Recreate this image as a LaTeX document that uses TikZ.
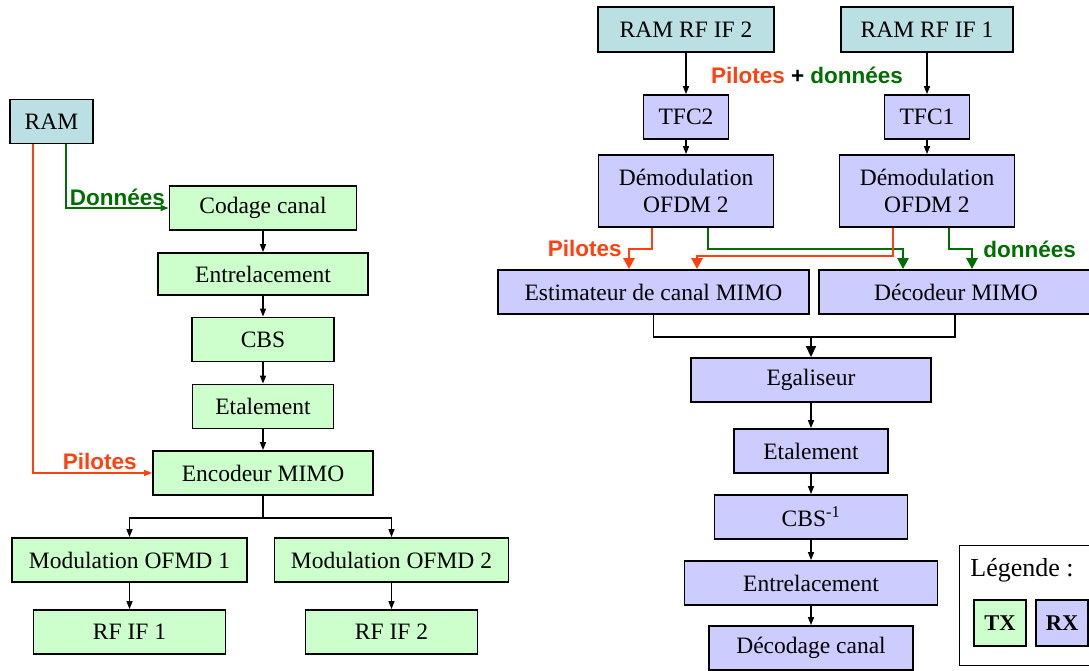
\documentclass[tikz,border=0pt]{standalone}
\usepackage{fontspec}
\setmainfont{Liberation Serif}
\newfontfamily\mmsans{Liberation Sans}
\usetikzlibrary{arrows.meta,calc}
\definecolor{mmtx}{HTML}{CCFFCC}
\definecolor{mmrx}{HTML}{CCCCFF}
\definecolor{mmram}{HTML}{BBE0E3}
\definecolor{mmred}{HTML}{FF4010}
\definecolor{mmgreen}{HTML}{006E00}
\tikzset{
  mm box/.style={draw=black, line width=1.8pt, inner sep=0pt, align=center,
    minimum height=44pt, font=\fontsize{23.5}{27}\selectfont},
  mm tx/.style={mm box, fill=mmtx},
  mm rx/.style={mm box, fill=mmrx},
  mm ram/.style={mm box, fill=mmram},
  mm line/.style={line width=1.4pt, draw=black},
  mm arrow/.style={mm line, -{Triangle[length=8pt,width=6pt]}},
  mm arrow big/.style={mm line, -{Triangle[length=11pt,width=10pt]}},
  mm pilot/.style={-{Triangle[length=8pt,width=6pt]}, line width=1.4pt, draw=mmred},
  mm data/.style={-{Triangle[length=8pt,width=6pt]}, line width=1.4pt, draw=mmgreen},
  mm pilot wide/.style={-{Triangle[length=11pt,width=11pt]}, line width=2.6pt, draw=mmred},
  mm data wide/.style={-{Triangle[length=11pt,width=11pt]}, line width=2.6pt, draw=mmgreen},
  mm label/.style={inner sep=0pt, font=\mmsans\bfseries\fontsize{22.5}{27}\selectfont}
}
\begin{document}
\begin{tikzpicture}[x=1pt, y=-1pt]
  \useasboundingbox (0,0) rectangle (1089,671);
  % emetteur
  \node[mm ram, minimum width=83pt] (ram) at (51.5,121.5) {RAM};
  \node[mm tx, minimum width=187pt] (codage) at (263,208) {Codage canal};
  \node[mm tx, minimum width=210pt, minimum height=42pt] (entrel) at (263,274) {Entrelacement};
  \node[mm tx, minimum width=142pt] (cbs) at (263,339.5) {CBS};
  \node[mm tx, minimum width=141pt] (etal) at (263,406.5) {Etalement};
  \node[mm tx, minimum width=220pt] (enc) at (263,473) {Encodeur MIMO};
  \node[mm tx, minimum width=235pt] (modA) at (129.5,560) {Modulation OFMD 1};
  \node[mm tx, minimum width=234pt] (modB) at (391.5,560) {Modulation OFMD 2};
  \node[mm tx, minimum width=192pt] (rfA) at (129.5,632) {RF IF 1};
  \node[mm tx, minimum width=172pt] (rfB) at (391.5,632) {RF IF 2};
  \draw[mm data] ([xshift=14.5pt]ram.south) |- node[mm label, text=mmgreen, pos=0.75, above=2pt] {Données} (codage.west);
  \draw[mm pilot] ([xshift=-18.5pt]ram.south) |- node[mm label, text=mmred, pos=0.78, above=3pt] {Pilotes} (enc.west);
  \draw[mm arrow] (codage) -- (entrel);
  \draw[mm arrow] (entrel) -- (cbs);
  \draw[mm arrow] (cbs) -- (etal);
  \draw[mm arrow] (etal) -- (enc);
  \draw[mm arrow] (enc.south) -- ++(0,22) -| (modA.north);
  \draw[mm arrow] (enc.south) -- ++(0,22) -| (modB.north);
  \draw[mm arrow] (modA) -- (rfA);
  \draw[mm arrow] (modB) -- (rfB);
  % recepteur
  \node[mm ram, minimum width=176pt, minimum height=45pt] (ramB) at (686,29.5) {RAM RF IF 2};
  \node[mm ram, minimum width=172pt, minimum height=45pt] (ramA) at (927,29.5) {RAM RF IF 1};
  \node[mm rx, minimum width=85pt] (tfcB) at (686,117) {TFC2};
  \node[mm rx, minimum width=85pt] (tfcA) at (927,117) {TFC1};
  \node[mm rx, minimum width=175pt, minimum height=72pt] (demB) at (686,191) {Démodulation\\OFDM 2};
  \node[mm rx, minimum width=175pt, minimum height=72pt] (demA) at (927,191) {Démodulation\\OFDM 2};
  \node[mm rx, minimum width=311pt] (est) at (653.5,292) {Estimateur de canal MIMO};
  \node[mm rx, minimum width=274pt] (dec) at (956,292) {Décodeur MIMO};
  \node[mm rx, minimum width=240pt] (egal) at (811,380) {Egaliseur};
  \node[mm rx, minimum width=154pt] (etalR) at (811,451) {Etalement};
  \node[mm rx, minimum width=193pt] (cbsR) at (811,517) {CBS\textsuperscript{-1}};
  \node[mm rx, minimum width=253pt] (entrR) at (811,583) {Entrelacement};
  \node[mm rx, minimum width=204pt] (decod) at (811,648) {Décodage canal};
  \node[mm label] (pd) at (807,75) {\textcolor{mmred}{Pilotes} + \textcolor{mmgreen}{données}};
  \draw[mm arrow] (ramB) -- (tfcB);
  \draw[mm arrow] (ramA) -- (tfcA);
  \draw[mm arrow] (tfcB) -- (demB);
  \draw[mm arrow] (tfcA) -- (demA);
  \draw[mm pilot wide] ([xshift=-34pt]demB.south) -- ++(0,21) -| node[mm label, text=mmred, pos=0.5, left=6pt] {Pilotes} ([xshift=-24.5pt]est.north);
  \draw[mm data wide] ([xshift=22pt]demB.south) -- ++(0,21) -| ([xshift=-53pt]dec.north);
  \draw[mm pilot wide] ([xshift=-34pt]demA.south) -- ++(0,28) -| ([xshift=43.5pt]est.north);
  \draw[mm data wide] ([xshift=22pt]demA.south) -- ++(0,21) -| node[mm label, text=mmgreen, pos=0.5, right=10pt] {données} ([xshift=16pt]dec.north);
  \draw[mm line] (est.south) -- ++(0,22) coordinate (mj) -| ([xshift=-1pt]dec.south);
  \draw[mm arrow big] (egal.north |- mj) -- (egal.north);
  \draw[mm arrow] (egal) -- (etalR);
  \draw[mm arrow] (etalR) -- (cbsR);
  \draw[mm arrow] (cbsR) -- (entrR);
  \draw[mm arrow] (entrR) -- (decod);
  % legende
  \draw[line width=0.9pt] (959,545) rectangle (1093,665);
  \node[font=\fontsize{26}{30}\selectfont] (leg) at (1022,570) {Légende :};
  \node[mm tx, minimum width=52pt, minimum height=46pt, font=\bfseries\fontsize{22.5}{27}\selectfont] (legTX) at (1000,623) {TX};
  \node[mm rx, minimum width=52pt, minimum height=46pt, font=\bfseries\fontsize{22.5}{27}\selectfont] (legRX) at (1062,623) {RX};
\end{tikzpicture}
\end{document}
